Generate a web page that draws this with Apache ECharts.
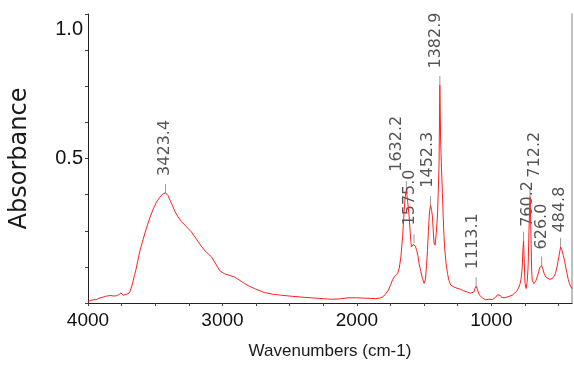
<!DOCTYPE html>
<html>
<head>
<meta charset="utf-8">
<script src="https://cdn.jsdelivr.net/npm/echarts@6/dist/echarts.min.js"></script>
<style>html,body{margin:0;padding:0;background:#fff}#c{width:574px;height:367px}</style>
</head>
<body>
<div id="c"></div>
<script>
// ---- data ----
const wavenumbers = [4000,3985,3970,3955,3940,3925,3910,3900,3890,3880,3870,3860,3850,3840,3830,3820,3810,3800,3790,3780,3770,3760,3755,3748,3740,3730,3715,3705,3695,3685,3675,3665,3655,3645,3630,3614,3590,3565,3540,3515,3490,3466,3445,3423.4,3405,3390,3372,3355,3330,3305,3270,3231,3195,3157,3120,3082,3050,3020,2984,2950,2910,2870,2835,2800,2761,2720,2687,2620,2563,2480,2400,2316,2250,2192,2130,2068,2000,1950,1900,1860,1821,1800,1784,1765,1747,1735,1722,1710,1697,1685,1673,1660,1648,1640,1632.2,1622,1611,1600,1594,1588,1580,1575.0,1565,1555,1545,1537,1525,1512,1500,1490,1482,1475,1468,1460,1452.3,1444,1438,1432,1426,1418,1410,1401,1395,1389,1382.9,1377,1371,1364,1358,1352,1346,1336,1326,1315,1302,1290,1277,1255,1232,1205,1178,1155,1141,1130,1122,1113.1,1104,1097,1088,1079,1065,1055,1042,1030,1018,1005,992,981,968,955,945,935,922,905,881,862,844,825,807,795,786,778,770,765,760.2,755,750,741,733,726,720,712.2,706,700,696,684,670,659,648,640,626.0,615,607,595,585,567,548,535,523,510,498,484.8,474,465,456,447,437,428,419,410,402,400];
const absorbance = [0.006,0.008,0.010,0.012,0.011,0.015,0.018,0.016,0.020,0.019,0.023,0.021,0.025,0.022,0.026,0.021,0.024,0.022,0.025,0.023,0.029,0.026,0.035,0.031,0.027,0.028,0.030,0.029,0.034,0.042,0.058,0.075,0.095,0.112,0.145,0.180,0.220,0.260,0.295,0.325,0.350,0.366,0.377,0.381,0.372,0.356,0.338,0.318,0.298,0.282,0.265,0.246,0.222,0.196,0.176,0.160,0.135,0.112,0.101,0.096,0.090,0.078,0.067,0.058,0.050,0.042,0.036,0.030,0.027,0.023,0.020,0.017,0.015,0.013,0.014,0.018,0.018,0.017,0.016,0.015,0.018,0.024,0.033,0.045,0.065,0.080,0.090,0.094,0.102,0.120,0.159,0.229,0.321,0.370,0.390,0.350,0.298,0.220,0.194,0.190,0.203,0.206,0.196,0.182,0.160,0.136,0.110,0.084,0.068,0.082,0.130,0.182,0.250,0.315,0.338,0.320,0.298,0.250,0.208,0.200,0.240,0.298,0.380,0.480,0.754,0.560,0.470,0.380,0.298,0.230,0.182,0.135,0.102,0.078,0.062,0.057,0.055,0.051,0.048,0.042,0.038,0.034,0.033,0.038,0.050,0.058,0.048,0.038,0.027,0.021,0.017,0.015,0.011,0.009,0.013,0.015,0.012,0.013,0.020,0.028,0.033,0.027,0.019,0.018,0.021,0.024,0.027,0.035,0.044,0.055,0.067,0.085,0.125,0.185,0.215,0.140,0.070,0.050,0.075,0.130,0.250,0.368,0.250,0.110,0.079,0.067,0.075,0.090,0.108,0.122,0.130,0.115,0.102,0.090,0.084,0.082,0.084,0.092,0.102,0.128,0.160,0.194,0.182,0.165,0.148,0.125,0.102,0.082,0.067,0.058,0.050,0.049];

const peakLabels = ['3423.4','1632.2','1575.0','1452.3','1382.9','1113.1','760.2','712.2','626.0','484.8'];
const peakWavenumbers = [3423.4,1632.2,1575.0,1452.3,1382.9,1113.1,760.2,712.2,626.0,484.8];
const peakAbsorbance = [0.381,0.390,0.206,0.338,0.754,0.058,0.215,0.368,0.130,0.194];

const xTickLabels = [1000,2000,3000,4000];
const xMinorTicks = [500,750,1000,1250,1500,1750,2000,2250,2500,2750,3000,3250,3500,3750,4000];
const yTickLabels = [0.5,1.0];

// ---- label placement tweaks (pixels, not data) ----
const labelNudge = {
  '3423.4':[8,-1],'1632.2':[9.5,-9],'1575.0':[9,-4],'1452.3':[8.6,-3],'1382.9':[7.6,-4],
  '1113.1':[8,-3],'760.2':[5,4],'712.2':[10,4.7],'626.0':[7,0],'484.8':[5.5,-1]
};

const sans = "'Liberation Sans',Arial,sans-serif";
const wide = "'DejaVu Sans',sans-serif";

const spectrum = wavenumbers.map((w,i)=>[w,absorbance[i]]);
const peaks = peakWavenumbers.map((w,i)=>({
  value:[w,peakAbsorbance[i]],
  name:peakLabels[i],
  label:{offset:labelNudge[peakLabels[i]]}
}));

const chart = echarts.init(document.getElementById('c'),null,{renderer:'canvas'});
chart.setOption({
  animation:false,
  backgroundColor:'#fff',
  grid:{left:87,right:2,top:14,bottom:64},
  xAxis:{
    type:'value',inverse:true,min:400,max:4000,
    name:'Wavenumbers (cm-1)',nameLocation:'middle',nameGap:40,
    nameTextStyle:{fontFamily:sans,fontSize:17,color:'#1a1a1a'},
    axisLine:{show:true,onZero:false,lineStyle:{color:'#222',width:1}},
    axisTick:{show:true,length:3,customValues:xMinorTicks,lineStyle:{color:'#444'}},
    axisLabel:{customValues:xTickLabels,margin:8,fontFamily:sans,fontSize:19,color:'#111',
      formatter:v=>String(v)},
    splitLine:{show:false}
  },
  yAxis:[{
    type:'value',min:0,max:1,interval:0.125,
    name:'Absorbance',nameLocation:'middle',nameGap:56,
    nameTextStyle:{fontFamily:wide,fontSize:24,color:'#1a1a1a'},
    axisLine:{show:true,lineStyle:{color:'#222',width:1}},
    axisTick:{show:true,length:3,lineStyle:{color:'#444'}},
    axisLabel:{customValues:yTickLabels,margin:5,fontFamily:sans,fontSize:20,color:'#111',
      formatter:v=> v===1 ? '{t|1.0}' : v.toFixed(1),
      rich:{t:{fontFamily:sans,fontSize:20,color:'#111',padding:[30,0,0,0]}}},
    splitLine:{show:false}
  },{
    type:'value',min:0,max:1,position:'right',
    axisLine:{show:true,lineStyle:{color:'#aaa',width:1.5}},
    axisTick:{show:false},axisLabel:{show:false},splitLine:{show:false}
  }],
  series:[{
    type:'line',data:spectrum,showSymbol:false,symbol:'none',
    lineStyle:{color:'#ff2020',width:1},silent:true
  },{
    type:'scatter',data:peaks,symbol:'rect',symbolSize:[1,9],symbolOffset:[0,-4.5],
    itemStyle:{color:'#808080'},silent:true,
    label:{show:true,formatter:p=>p.name,position:'top',distance:0,rotate:90,
      align:'left',verticalAlign:'middle',fontFamily:wide,fontSize:16,color:'#2a2a2a'}
  }]
});
</script>
</body>
</html>
